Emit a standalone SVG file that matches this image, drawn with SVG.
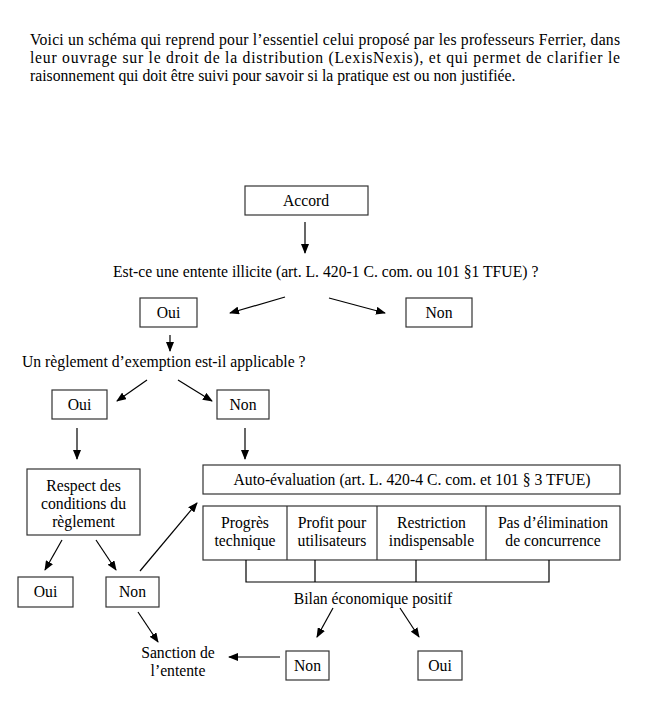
<svg xmlns="http://www.w3.org/2000/svg" width="650" height="709" viewBox="0 0 650 709">
<defs>
<style>
text{font-family:"Liberation Serif","Times New Roman",serif;font-size:15.7px;fill:#000}
.c{text-anchor:middle}
.box{fill:#fff;stroke:#333;stroke-width:1.2}
.ln{fill:none;stroke:#000;stroke-width:1.2}
.ar{fill:none;stroke:#000;stroke-width:1.2;marker-end:url(#ah)}
</style>
<marker id="ah" markerWidth="10" markerHeight="8" refX="9" refY="4" orient="auto" markerUnits="userSpaceOnUse">
<path d="M0,0 L10,4 L0,8 z" fill="#000"/>
</marker>
</defs>
<rect width="650" height="709" fill="#fff"/>
<g id="intro">
<text x="30" y="45" textLength="590" lengthAdjust="spacing">Voici un schéma qui reprend pour l’essentiel celui proposé par les professeurs Ferrier, dans</text>
<text x="30" y="63" textLength="590" lengthAdjust="spacing">leur ouvrage sur le droit de la distribution (LexisNexis), et qui permet de clarifier le</text>
<text x="30" y="81">raisonnement qui doit être suivi pour savoir si la pratique est ou non justifiée.</text>
</g>
<g id="accord"><rect class="box" x="245" y="186" width="123" height="29"/><text class="c" x="306" y="206">Accord</text></g>
<g id="q1"><text x="113" y="277">Est-ce une entente illicite (art. L. 420-1 C. com. ou 101 §1 TFUE) ?</text></g>
<g id="q1-oui"><rect class="box" x="140" y="298" width="57" height="29"/><text class="c" x="168.5" y="318">Oui</text></g>
<g id="q1-non"><rect class="box" x="406" y="298" width="66" height="29"/><text class="c" x="439" y="318">Non</text></g>
<g id="q2"><text x="22" y="367">Un règlement d’exemption est-il applicable ?</text></g>
<g id="q2-oui"><rect class="box" x="52" y="390" width="55" height="29"/><text class="c" x="79.5" y="410">Oui</text></g>
<g id="q2-non"><rect class="box" x="217" y="390" width="52" height="29"/><text class="c" x="243" y="410">Non</text></g>
<g id="respect"><rect class="box" x="27" y="469" width="113" height="66"/>
<text class="c" x="83.5" y="491">Respect des</text><text class="c" x="83.5" y="509">conditions du</text><text class="c" x="83.5" y="527">règlement</text></g>
<g id="r-oui"><rect class="box" x="18" y="577" width="55" height="30"/><text class="c" x="45.5" y="597">Oui</text></g>
<g id="r-non"><rect class="box" x="106" y="577" width="53" height="30"/><text class="c" x="132.5" y="597">Non</text></g>
<g id="auto"><rect class="box" x="203" y="465" width="417" height="29"/><text class="c" x="412" y="485">Auto-évaluation (art. L. 420-4 C. com. et 101 § 3 TFUE)</text></g>
<g id="criteres"><rect class="box" x="203" y="506" width="417" height="54"/>
<path class="ln" d="M287,506V560M377,506V560M486,506V560" style="stroke:#333"/>
<text class="c" x="245" y="528">Progrès</text><text class="c" x="245" y="546">technique</text>
<text class="c" x="332" y="528">Profit pour</text><text class="c" x="332" y="546">utilisateurs</text>
<text class="c" x="431.5" y="528">Restriction</text><text class="c" x="431.5" y="546">indispensable</text>
<text class="c" x="553" y="528">Pas d’élimination</text><text class="c" x="553" y="546">de concurrence</text></g>
<g id="bilan"><text class="c" x="373" y="604">Bilan économique positif</text></g>
<g id="b-non"><rect class="box" x="286" y="651" width="43" height="29"/><text class="c" x="307.5" y="671">Non</text></g>
<g id="b-oui"><rect class="box" x="418" y="651" width="44" height="29"/><text class="c" x="440" y="671">Oui</text></g>
<g id="sanction"><text class="c" x="178" y="658">Sanction de</text><text class="c" x="178" y="676">l’entente</text></g>
<g id="connectors">
<line class="ar" x1="305" y1="222" x2="305" y2="253"/>
<line class="ar" x1="285" y1="297" x2="230" y2="313"/>
<line class="ar" x1="329" y1="298" x2="385" y2="313"/>
<line class="ar" x1="170" y1="335" x2="170" y2="351"/>
<line class="ar" x1="147" y1="380" x2="117" y2="401"/>
<line class="ar" x1="178" y1="380" x2="212" y2="401"/>
<line class="ar" x1="77" y1="428" x2="77" y2="459"/>
<line class="ar" x1="245" y1="428" x2="245" y2="459"/>
<line class="ar" x1="62" y1="540" x2="45" y2="570"/>
<line class="ar" x1="96" y1="540" x2="116" y2="570"/>
<line class="ar" x1="140" y1="571" x2="197" y2="503"/>
<line class="ar" x1="138" y1="612" x2="158" y2="642"/>
<line class="ar" x1="280" y1="657" x2="229" y2="657"/>
<path class="ln" d="M246,560V582H549V560M315,560V582M416,560V582"/>
<line class="ar" x1="333" y1="608" x2="317" y2="637"/>
<line class="ar" x1="400" y1="608" x2="419" y2="637"/>
</g>
</svg>
